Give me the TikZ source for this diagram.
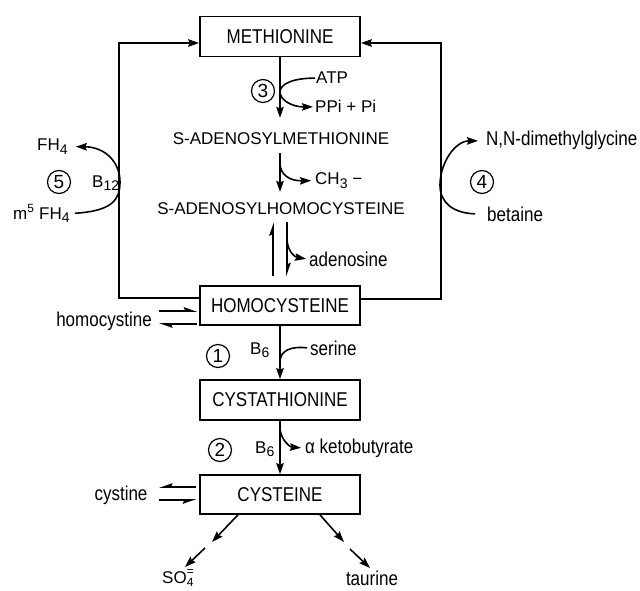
\documentclass[tikz,border=0pt]{standalone}
\usepackage{fontspec}
\setmainfont{Liberation Sans}
\newfontfamily\narrowfont{Liberation Sans}[FakeStretch=0.85]
\usetikzlibrary{arrows.meta}
\newcommand{\lowsub}[1]{\raisebox{-3pt}{\fontsize{14}{14}\selectfont #1}}
\begin{document}
\begin{tikzpicture}[x=1pt,y=1pt,
  box/.style={draw, line width=1.7pt, minimum width=160pt, minimum height=40pt, inner sep=0pt, font=\narrowfont\fontsize{20}{24}\selectfont},
  lbl/.style={inner sep=0pt, font=\narrowfont\fontsize{20}{24}\selectfont},
  capt/.style={inner sep=0pt, font=\fontsize{17}{20}\selectfont},
  num/.style={draw, circle, line width=1.2pt, minimum size=23pt, inner sep=0pt, font=\fontsize{19}{20}\selectfont},
  ln/.style={line width=1.6pt},
  arr/.style={line width=1.6pt, -{Stealth[length=11pt,width=7.5pt,inset=1.5pt]}},
  harp/.style={line width=1.6pt, -{Stealth[length=11pt,width=7.5pt,inset=1.5pt,harpoon]}},
  harps/.style={line width=1.6pt, -{Stealth[length=11pt,width=7.5pt,inset=1.5pt,harpoon,swap]}},
]
\useasboundingbox (0,0) rectangle (640,-591);

% boxes
\node[box] (met) at (280,-36.5) {METHIONINE};
\node[box, minimum height=39pt] (hcys) at (280,-305.5) {HOMOCYSTEINE};
\node[box] (cyst) at (280,-400) {CYSTATHIONINE};
\node[box, minimum height=39pt] (cys) at (280,-494.5) {CYSTEINE};

% text labels
\node[capt, anchor=base] (sam) at (281,-145) {S-ADENOSYLMETHIONINE};
\node[capt, anchor=base] (sah) at (281,-214) {S-ADENOSYLHOMOCYSTEINE};
\node[capt, anchor=base west] (atp) at (316,-84) {ATP};
\node[capt, anchor=base west] (ppi) at (315,-113) {PPi + Pi};
\node[capt, anchor=base west] (ch3) at (315,-185) {CH\lowsub{3} −};
\node[lbl, anchor=base west] (ado) at (309,-266) {adenosine};
\node[lbl, anchor=base] (hcy) at (104,-326) {homocystine};
\node[capt, anchor=base west] (b6a) at (250,-354) {B\lowsub{6}};
\node[lbl, anchor=base west] (ser) at (310,-355) {serine};
\node[capt, anchor=base west] (b6b) at (255,-453) {B\lowsub{6}};
\node[lbl, anchor=base west] (akb) at (305,-453) {α ketobutyrate};
\node[lbl, anchor=base] (cyn) at (121,-500) {cystine};
\node[capt, anchor=base west] (so4) at (162,-583) {SO\raisebox{-3pt}{\fontsize{12}{12}\selectfont\shortstack[c]{=\\[-1pt]4}}};
\node[lbl, anchor=base] (tau) at (372,-585) {taurine};
\node[capt, anchor=base west] (fh4) at (37,-151) {FH\lowsub{4}};
\node[capt, anchor=base west] (m5) at (13,-219) {m\textsuperscript{5} FH\lowsub{4}};
\node[capt, anchor=base west] (b12) at (92,-187) {B\lowsub{12}};
\node[lbl, anchor=base west] (dmg) at (486,-146) {N,N-dimethylglycine};
\node[lbl, anchor=base west] (bet) at (487,-221) {betaine};

% circled numbers
\node[num] (n3) at (263,-91) {3};
\node[num] (n5) at (59,-182) {5};
\node[num] (n4) at (482,-182) {4};
\node[num] (n1) at (218,-356) {1};
\node[num] (n2) at (220,-450) {2};

% loops
\draw[arr] ([yshift=7.5pt]hcys.west) -- ++(-80,0) |- ([yshift=-6.5pt]met.west);
\draw[arr] ([yshift=6.5pt]hcys.east) -- ++(80,0) |- ([yshift=-6.5pt]met.east);

% main chain
\draw[arr, shorten >=15pt] (met.south) -- (met.south |- sam.north);
\draw[arr, shorten <=8pt, shorten >=10pt] (sam.south -| met.south) -- (sah.north -| met.south);
\draw[harp, shorten <=9pt, shorten >=8pt] ([xshift=-7pt]hcys.north) -- ([xshift=-7pt]hcys.north |- sah.south);
\draw[harp, shorten <=8pt, shorten >=9pt] ([xshift=7pt]hcys.north |- sah.south) -- ([xshift=7pt]hcys.north);
\draw[arr] (hcys.south) -- (cyst.north);
\draw[arr] (cyst.south) -- (cys.north);

% side branches
\coordinate (atpj) at (280,-92);
\draw[arr] ([xshift=-1pt]atp.west) .. controls (293,-78) and (280,-84) .. (atpj) .. controls (280,-100) and (292,-107) .. ([xshift=-2pt]ppi.west);
\coordinate (ch3j) at (280,-163);
\draw[arr] (ch3j) .. controls (280,-175) and (290,-181) .. ([xshift=-4pt]ch3.west);
\coordinate (adoj) at (287,-240);
\draw[arr] (adoj) .. controls (288,-252) and (295,-257) .. ([xshift=-3pt]ado.west);
\coordinate (serj) at (280,-362);
\draw[ln] ([xshift=-3pt]ser.west) .. controls (292,-346) and (280,-350) .. (serj);
\coordinate (akbj) at (280,-429);
\draw[arr] (akbj) .. controls (281,-440) and (290,-447) .. ([xshift=-4pt]akb.west);

% equilibria
\draw[harp] ([yshift=-5.5pt,xshift=-40pt]hcys.west) -- ([yshift=-5.5pt,xshift=-2pt]hcys.west);
\draw[harp] ([yshift=-18.5pt,xshift=-2pt]hcys.west) -- ([yshift=-18.5pt,xshift=-40pt]hcys.west);
\draw[harps] ([yshift=7.5pt,xshift=-3pt]cys.west) -- ([yshift=7.5pt,xshift=-40pt]cys.west);
\draw[harps] ([yshift=-5.5pt,xshift=-40pt]cys.west) -- ([yshift=-5.5pt,xshift=-3pt]cys.west);

% methyl transfers
\coordinate (b12j) at (120,-182);
\draw[arr] ([xshift=5pt]m5.east) .. controls (112,-211) and (120,-200) .. (b12j) .. controls (120,-162) and (105,-147) .. ([xshift=8pt]fh4.east);
\coordinate (betj) at (440,-185);
\draw[arr] ([xshift=-12pt]bet.west) .. controls (452,-213) and (440,-202) .. (betj) .. controls (440,-163) and (455,-141) .. ([xshift=-8pt]dmg.west);

% cysteine products
\coordinate (c1) at (212,-542);
\coordinate (c2) at (205,-548);
\coordinate (c3) at (185,-567);
\coordinate (c4) at (344,-542);
\coordinate (c5) at (350,-549);
\coordinate (c6) at (370,-568);
\draw[arr] ([xshift=-42pt]cys.south) -- (c1);
\draw[arr] (c2) -- (c3);
\draw[arr] ([xshift=40pt]cys.south) -- (c4);
\draw[arr] (c5) -- (c6);
\end{tikzpicture}
\end{document}
